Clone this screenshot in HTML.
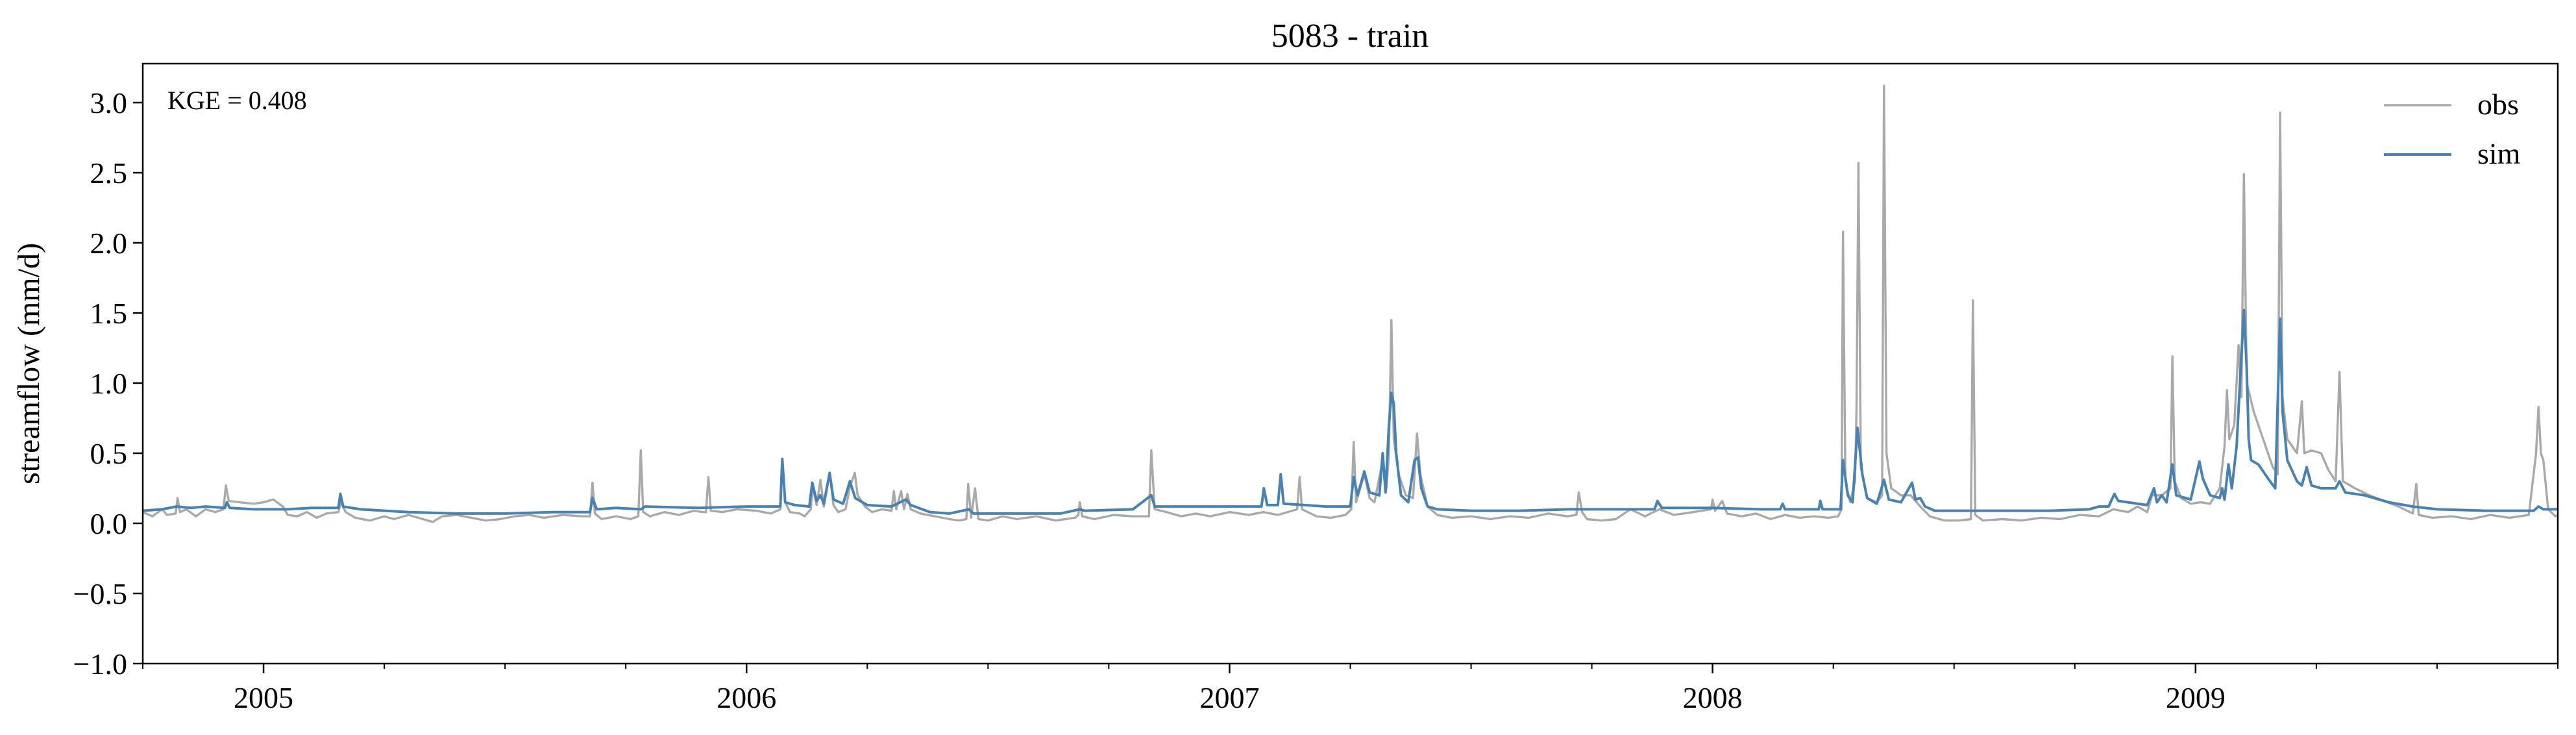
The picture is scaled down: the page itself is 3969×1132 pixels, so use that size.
<!DOCTYPE html>
<html><head><meta charset="utf-8"><style>
html,body{margin:0;padding:0;background:#fff}
svg{display:block;font-family:"Liberation Serif",serif}
</style></head><body>
<svg id="chart" width="3969" height="1132" viewBox="0 0 3969 1132" xmlns="http://www.w3.org/2000/svg">
<rect x="0" y="0" width="3969" height="1132" fill="#fff"/>
<text x="2080" y="72" font-size="52" text-anchor="middle">5083 - train</text>
<text transform="translate(60,560) rotate(-90)" font-size="48" text-anchor="middle">streamflow (mm/d)</text>
<g id="plot"></g>
<g id="axes"></g>
<text x="258" y="168" font-size="40">KGE = 0.408</text>
<g>
<g>
<line x1="3673" y1="162" x2="3777" y2="162" stroke="#a9a9a9" stroke-width="3.4"/>
<text x="3817" y="176" font-size="46">obs</text></g>
<g>
<line x1="3673" y1="238" x2="3777" y2="238" stroke="#4682b4" stroke-width="4"/>
<text x="3817" y="252" font-size="46">sim</text></g>
</g>
</svg>
<script>
const obsT=[2004.75,2004.77,2004.79,2004.80,2004.818,2004.822,2004.827,2004.84,2004.86,2004.88,2004.90,2004.917,2004.922,2004.928,2004.95,2004.98,2005.0,2005.02,2005.04,2005.05,2005.07,2005.09,2005.11,2005.13,2005.155,2005.16,2005.17,2005.19,2005.22,2005.25,2005.27,2005.30,2005.33,2005.35,2005.37,2005.40,2005.43,2005.46,2005.49,2005.52,2005.55,2005.58,2005.62,2005.66,2005.676,2005.681,2005.686,2005.70,2005.73,2005.76,2005.776,2005.781,2005.786,2005.80,2005.83,2005.86,2005.89,2005.91,2005.916,2005.921,2005.926,2005.95,2005.98,2006.02,2006.05,2006.07,2006.074,2006.08,2006.09,2006.11,2006.12,2006.133,2006.137,2006.145,2006.153,2006.16,2006.172,2006.18,2006.19,2006.205,2006.214,2006.224,2006.23,2006.245,2006.26,2006.28,2006.30,2006.305,2006.31,2006.320,2006.326,2006.333,2006.34,2006.36,2006.39,2006.42,2006.44,2006.455,2006.459,2006.465,2006.473,2006.48,2006.50,2006.53,2006.56,2006.60,2006.64,2006.68,2006.687,2006.69,2006.695,2006.72,2006.76,2006.80,2006.833,2006.838,2006.845,2006.87,2006.90,2006.93,2006.96,2007.0,2007.04,2007.07,2007.10,2007.14,2007.145,2007.15,2007.18,2007.21,2007.24,2007.252,2007.257,2007.262,2007.279,2007.29,2007.30,2007.317,2007.325,2007.33,2007.335,2007.34,2007.35,2007.365,2007.38,2007.388,2007.395,2007.41,2007.43,2007.46,2007.50,2007.54,2007.58,2007.62,2007.66,2007.70,2007.718,2007.723,2007.73,2007.74,2007.77,2007.80,2007.83,2007.86,2007.89,2007.92,2007.96,2007.997,2008.0,2008.005,2008.02,2008.03,2008.06,2008.09,2008.12,2008.15,2008.18,2008.21,2008.24,2008.26,2008.267,2008.27,2008.275,2008.285,2008.295,2008.298,2008.302,2008.307,2008.32,2008.34,2008.351,2008.355,2008.36,2008.37,2008.39,2008.41,2008.43,2008.45,2008.48,2008.51,2008.535,2008.539,2008.544,2008.56,2008.60,2008.64,2008.68,2008.72,2008.76,2008.80,2008.83,2008.86,2008.88,2008.90,2008.91,2008.93,2008.948,2008.952,2008.957,2008.97,2008.99,2009.01,2009.03,2009.05,2009.06,2009.065,2009.07,2009.08,2009.089,2009.095,2009.1,2009.106,2009.12,2009.14,2009.16,2009.17,2009.175,2009.18,2009.19,2009.21,2009.22,2009.225,2009.24,2009.26,2009.275,2009.29,2009.298,2009.305,2009.33,2009.36,2009.39,2009.42,2009.45,2009.457,2009.462,2009.49,2009.53,2009.57,2009.61,2009.65,2009.69,2009.705,2009.71,2009.715,2009.72,2009.73,2009.745,2009.75];
const obsV=[0.08,0.05,0.10,0.06,0.07,0.18,0.08,0.10,0.05,0.10,0.08,0.10,0.27,0.16,0.15,0.14,0.15,0.17,0.12,0.06,0.05,0.08,0.04,0.07,0.08,0.15,0.08,0.04,0.02,0.05,0.03,0.06,0.03,0.01,0.05,0.06,0.04,0.02,0.03,0.05,0.06,0.04,0.06,0.05,0.05,0.29,0.07,0.03,0.05,0.03,0.05,0.52,0.08,0.05,0.08,0.06,0.09,0.08,0.08,0.33,0.09,0.08,0.10,0.09,0.07,0.10,0.44,0.15,0.08,0.07,0.05,0.10,0.26,0.13,0.31,0.12,0.36,0.13,0.08,0.10,0.26,0.36,0.20,0.12,0.08,0.10,0.09,0.23,0.10,0.23,0.10,0.21,0.10,0.07,0.05,0.03,0.02,0.03,0.28,0.04,0.25,0.03,0.02,0.05,0.03,0.05,0.02,0.04,0.06,0.15,0.05,0.03,0.06,0.05,0.05,0.52,0.10,0.08,0.05,0.07,0.05,0.08,0.06,0.08,0.06,0.10,0.33,0.10,0.05,0.04,0.06,0.10,0.58,0.15,0.35,0.18,0.15,0.45,0.25,0.50,1.45,0.60,0.35,0.20,0.18,0.64,0.35,0.12,0.06,0.04,0.05,0.03,0.05,0.04,0.07,0.05,0.06,0.22,0.08,0.03,0.02,0.03,0.10,0.05,0.10,0.06,0.08,0.10,0.17,0.09,0.16,0.07,0.05,0.07,0.03,0.06,0.04,0.05,0.04,0.05,0.10,2.08,0.30,0.15,0.30,0.80,2.57,0.40,0.18,0.15,0.20,3.12,0.50,0.25,0.20,0.20,0.12,0.05,0.02,0.02,0.03,1.59,0.06,0.02,0.03,0.02,0.04,0.03,0.06,0.05,0.10,0.08,0.12,0.08,0.20,0.20,0.25,1.19,0.30,0.18,0.14,0.15,0.14,0.25,0.55,0.95,0.60,0.70,1.27,0.90,2.49,1.00,0.80,0.60,0.40,0.35,2.93,0.90,0.60,0.50,0.87,0.50,0.52,0.50,0.38,0.30,1.08,0.30,0.25,0.20,0.16,0.12,0.07,0.28,0.06,0.04,0.05,0.03,0.06,0.04,0.06,0.50,0.83,0.50,0.45,0.10,0.05,0.06];
const simT=[2004.75,2004.79,2004.82,2004.85,2004.88,2004.92,2004.924,2004.93,2004.98,2005.05,2005.1,2005.155,2005.159,2005.165,2005.2,2005.3,2005.4,2005.5,2005.6,2005.676,2005.681,2005.69,2005.73,2005.781,2005.79,2005.9,2006.0,2006.07,2006.074,2006.08,2006.1,2006.13,2006.136,2006.145,2006.153,2006.16,2006.172,2006.18,2006.2,2006.214,2006.225,2006.25,2006.3,2006.33,2006.34,2006.38,2006.42,2006.46,2006.47,2006.55,2006.65,2006.69,2006.7,2006.8,2006.838,2006.845,2006.9,2007.0,2007.066,2007.071,2007.078,2007.1,2007.106,2007.112,2007.2,2007.25,2007.257,2007.265,2007.279,2007.29,2007.31,2007.317,2007.323,2007.33,2007.335,2007.34,2007.345,2007.355,2007.37,2007.383,2007.39,2007.397,2007.41,2007.43,2007.5,2007.6,2007.7,2007.8,2007.88,2007.886,2007.895,2008.0,2008.1,2008.14,2008.145,2008.15,2008.22,2008.223,2008.228,2008.265,2008.27,2008.28,2008.29,2008.3,2008.31,2008.32,2008.34,2008.355,2008.365,2008.39,2008.413,2008.42,2008.43,2008.44,2008.46,2008.6,2008.7,2008.78,2008.8,2008.82,2008.832,2008.84,2008.9,2008.914,2008.92,2008.93,2008.94,2008.952,2008.96,2008.99,2009.008,2009.015,2009.03,2009.05,2009.055,2009.06,2009.068,2009.075,2009.085,2009.095,2009.1,2009.106,2009.11,2009.115,2009.13,2009.15,2009.165,2009.175,2009.18,2009.19,2009.21,2009.22,2009.23,2009.24,2009.26,2009.29,2009.298,2009.31,2009.35,2009.4,2009.45,2009.5,2009.6,2009.7,2009.71,2009.72,2009.75];
const simV=[0.09,0.10,0.12,0.11,0.12,0.11,0.15,0.11,0.10,0.10,0.11,0.11,0.21,0.12,0.10,0.08,0.07,0.07,0.08,0.08,0.18,0.10,0.11,0.10,0.12,0.11,0.12,0.12,0.46,0.15,0.13,0.12,0.29,0.16,0.20,0.14,0.36,0.17,0.14,0.30,0.18,0.13,0.12,0.17,0.13,0.08,0.07,0.10,0.07,0.07,0.07,0.10,0.09,0.10,0.20,0.12,0.12,0.12,0.12,0.25,0.13,0.13,0.35,0.14,0.12,0.12,0.33,0.20,0.37,0.22,0.20,0.50,0.22,0.70,0.93,0.85,0.50,0.20,0.15,0.45,0.47,0.25,0.12,0.10,0.09,0.09,0.10,0.10,0.10,0.16,0.11,0.11,0.10,0.10,0.14,0.10,0.10,0.16,0.10,0.10,0.45,0.20,0.15,0.68,0.35,0.18,0.14,0.31,0.17,0.15,0.29,0.17,0.18,0.12,0.09,0.09,0.09,0.10,0.12,0.12,0.21,0.16,0.13,0.25,0.15,0.20,0.15,0.42,0.20,0.17,0.44,0.32,0.20,0.18,0.25,0.17,0.42,0.25,0.55,1.20,1.52,1.10,0.60,0.45,0.42,0.32,0.25,1.46,0.80,0.45,0.30,0.27,0.40,0.27,0.25,0.25,0.30,0.22,0.20,0.15,0.12,0.10,0.09,0.09,0.12,0.10,0.10];
const yTicks=[-1.0,-0.5,0.0,0.5,1.0,1.5,2.0,2.5,3.0];
const yTickLabels=["\u22121.0","\u22120.5","0.0","0.5","1.0","1.5","2.0","2.5","3.0"];
const xTicks=[2005,2006,2007,2008,2009];
const xTickLabels=["2005","2006","2007","2008","2009"];

const X0=220,X1=3941,Y0=98,Y1=1022;
const xMin=2004.75,xMax=2009.75,yMin=-1.0,yMax=3.278;
const NS="http://www.w3.org/2000/svg";
function xs(t){return X0+(t-xMin)/(xMax-xMin)*(X1-X0);}
function ys(v){return Y1-(v-yMin)/(yMax-yMin)*(Y1-Y0);}
function mk(tag,attrs){const e=document.createElementNS(NS,tag);for(const k in attrs)e.setAttribute(k,attrs[k]);return e;}
const plot=document.getElementById('plot'),axes=document.getElementById('axes');
function series(T,V,color,w,name){
  let d='';for(let i=0;i<T.length;i++){d+=(i?'L':'M')+xs(T[i]).toFixed(1)+','+ys(V[i]).toFixed(1);}
  const p=mk('path',{d:d,fill:'none',stroke:color,'stroke-width':w,'stroke-linejoin':'round'});
  
  
  plot.appendChild(p);
}
series(obsT,obsV,'#a9a9a9',3.4,'obs-line');
series(simT,simV,'#4682b4',4.0,'sim-line');
const frame=mk('rect',{x:X0,y:Y0,width:X1-X0,height:Y1-Y0,fill:'none',stroke:'#000','stroke-width':2.5});


axes.appendChild(frame);
yTicks.forEach((v,i)=>{
  const y=ys(v);
  const l=mk('line',{x1:X0-15,y1:y,x2:X0,y2:y,stroke:'#000','stroke-width':2.5});
  
  
  axes.appendChild(l);
  const t=mk('text',{x:X0-24,y:y+16,'font-size':46,'text-anchor':'end'});
  t.textContent=yTickLabels[i];
  
  
  axes.appendChild(t);
});
for(let q=0;q<=20;q++){
  const t=xMin+q*0.25;const x=xs(t);
  const major=Math.abs(t-Math.round(t))<1e-6;
  const l=mk('line',{x1:x,y1:Y1,x2:x,y2:Y1+(major?15:8),stroke:'#000','stroke-width':major?2.5:2});
  
  
  axes.appendChild(l);
}
xTicks.forEach((v,i)=>{
  const t=mk('text',{x:xs(v),y:1090,'font-size':46,'text-anchor':'middle'});
  t.textContent=xTickLabels[i];
  
  
  axes.appendChild(t);
});
</script>
</body></html>
